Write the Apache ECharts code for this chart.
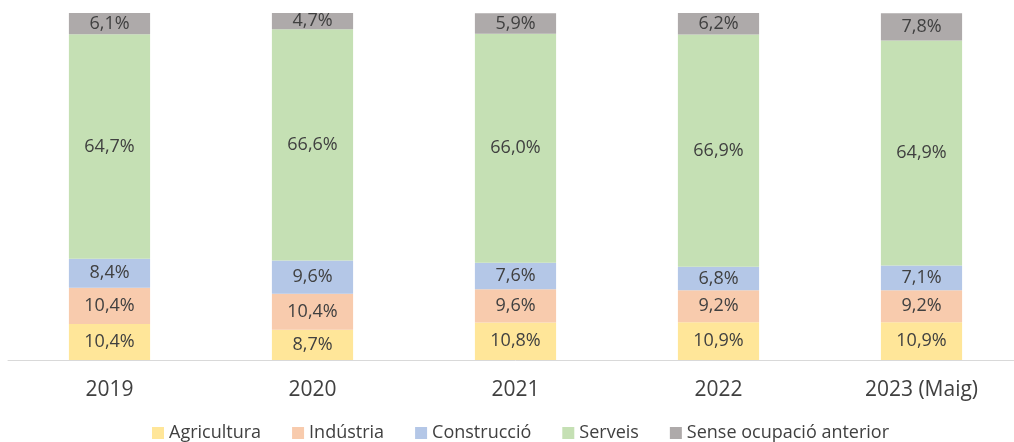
<!DOCTYPE html>
<html>
<head>
<meta charset="utf-8">
<script src="https://cdn.jsdelivr.net/npm/echarts@6/dist/echarts.min.js"></script>
<style>
    html, body { margin: 0; padding: 0; background: #fff; overflow: hidden; }
    /* el gràfic original queda retallat per la dreta */
    #chart { width: 1023px; height: 442px; }
</style>
</head>
<body>
<div id="chart"></div>
<script>
var anys = ['2019', '2020', '2021', '2022', '2023 (Maig)'];
var agricultura = [10.4, 8.7, 10.8, 10.9, 10.9];
var industria = [10.4, 10.4, 9.6, 9.2, 9.2];
var construccio = [8.4, 9.6, 7.6, 6.8, 7.1];
var serveis = [64.7, 66.6, 66.0, 66.9, 64.9];
var senseOcupacio = [6.1, 4.7, 5.9, 6.2, 7.8];

var myChart = echarts.init(document.getElementById('chart'));

var fontFam = '"Open Sans", "Noto Sans", sans-serif';

function serie(name, data, color) {
    return {
        name: name,
        type: 'bar',
        stack: 'total',
        barWidth: '40%',
        itemStyle: { color: color },
        label: {
            show: true,
            position: 'inside',
            color: '#404040',
            fontSize: 18,
            fontFamily: fontFam,
            formatter: function (p) {
                return p.value.toFixed(1).replace('.', ',') + '%';
            }
        },
        data: data
    };
}

var option = {
    animation: false,
    grid: { left: 8, right: 0, top: 13, bottom: 82, containLabel: false },
    legend: {
        top: 419,
        left: 147,
        itemWidth: 12,
        itemHeight: 12,
        itemGap: 31,
        icon: 'rect',
        textStyle: { color: '#404040', fontSize: 18, fontFamily: fontFam },
        data: ['Agricultura', 'Indústria', 'Construcció', 'Serveis', 'Sense ocupació anterior']
    },
    xAxis: {
        type: 'category',
        data: anys,
        axisLine: { lineStyle: { color: '#D9D9D9', width: 1 } },
        axisTick: { show: false },
        axisLabel: { color: '#404040', fontSize: 21, fontFamily: fontFam, margin: 20 }
    },
    yAxis: {
        type: 'value',
        min: 0,
        max: 100,
        show: false
    },
    series: [
        serie('Agricultura', agricultura, '#FFE699'),
        serie('Indústria', industria, '#F8CBAD'),
        serie('Construcció', construccio, '#B4C7E7'),
        serie('Serveis', serveis, '#C5E0B4'),
        serie('Sense ocupació anterior', senseOcupacio, '#AEAAAA')
    ]
};

myChart.setOption(option);
</script>
</body>
</html>
